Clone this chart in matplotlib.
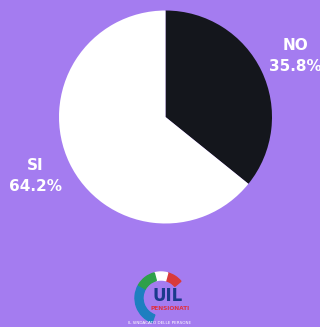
import matplotlib
matplotlib.use("Agg")
import matplotlib.pyplot as plt
from matplotlib.patches import Wedge

categories = ["NO", "SI"]
values = [35.8, 64.2]
labels = ["NO\n35.8%", "SI\n64.2%"]
colors = ["#14161c", "#ffffff"]
bg = "#a47cf0"

W, H = 320, 327
fig = plt.figure(figsize=(W / 100, H / 100), dpi=100)
fig.patch.set_facecolor(bg)

# pie axes: center (165.5,117) radius 106.5 px
r = 106.5
cx, cy = 165.5, 117
ax = fig.add_axes([(cx - r) / W, 1 - (cy + r) / H, 2 * r / W, 2 * r / H])
ax.pie(values, colors=colors, startangle=90, counterclock=False,
       wedgeprops=dict(linewidth=0))
ax.set_aspect("equal")
ax.set_xlim(-1, 1)
ax.set_ylim(-1, 1)
ax.axis("off")

font = dict(family="DejaVu Sans", fontweight="bold",
            color="white", fontsize=11, ha="center", va="center", linespacing=1.45)
fig.text(295 / W, 1 - 56 / H, labels[0], **font)
fig.text(35 / W, 1 - 176 / H, labels[1], **font)

# logo (y measured from top, converted)
lax = fig.add_axes([0, 0, 1, 1])
lax.set_xlim(0, W)
lax.set_ylim(0, H)
lax.axis("off")
lax.patch.set_alpha(0)
c0 = (161, H - 298)
lax.add_patch(Wedge(c0, 26, 150, 250, width=8, color="#1e7fc0"))
for (t1, t2, c) in [(40, 75, "#d93a3a"), (75, 105, "#ffffff"), (105, 150, "#2ea04a")]:
    lax.add_patch(Wedge(c0, 26, t1, t2, width=8, color=c))
lax.text(168, H - 296, "UIL", color="#1a3a8c", fontsize=12, fontweight="black",
         ha="center", va="center", family="DejaVu Sans")
lax.text(170, H - 309, "PENSIONATI", color="#e03040", fontsize=4.2, fontweight="bold",
         ha="center", va="center")
lax.text(160, H - 323, "IL SINDACATO DELLE PERSONE", color="white", fontsize=3,
         ha="center", va="center")

fig.savefig("out.png", dpi=100, facecolor=bg)
